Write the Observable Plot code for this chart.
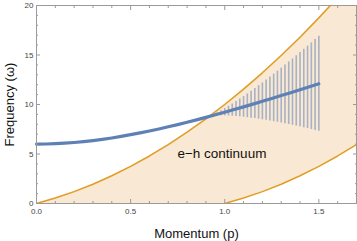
<!DOCTYPE html>
<html>
<head>
<meta charset="utf-8">
<script src="https://cdn.jsdelivr.net/npm/d3@7"></script>
<script src="https://cdn.jsdelivr.net/npm/@observablehq/plot@0.6"></script>
<style>
  html, body { margin: 0; padding: 0; background: #fff; }
  #chart svg { display: block; }
</style>
</head>
<body>
<div id="chart"></div>
<script>
// Continuum boundaries
const momentum = [0, 0.1, 0.2, 0.3, 0.4, 0.5, 0.6, 0.7, 0.8, 0.9, 1.0, 1.1, 1.2, 1.3, 1.4, 1.5, 1.6, 1.7];
const upperEdge = [0, 0.55, 1.2, 1.95, 2.8, 3.75, 4.8, 5.95, 7.2, 8.55, 10, 11.55, 13.2, 14.95, 16.8, 18.75, 20.8, 22.95];
const lowerEdge = [0, 0, 0, 0, 0, 0, 0, 0, 0, 0, 0, 0.55, 1.2, 1.95, 2.8, 3.75, 4.8, 5.95];

// Collective mode (blue)
const modeP = [0, 0.05, 0.1, 0.15, 0.2, 0.25, 0.3, 0.35, 0.4, 0.45, 0.5, 0.55, 0.6, 0.65, 0.7, 0.75, 0.8, 0.85, 0.9, 0.95, 1.0, 1.05, 1.1, 1.15, 1.2, 1.25, 1.3, 1.35, 1.4, 1.45, 1.5];
const modeW = [6.0, 6.01, 6.04, 6.09, 6.16, 6.25, 6.36, 6.48, 6.62, 6.78, 6.95, 7.13, 7.32, 7.53, 7.75, 7.97, 8.21, 8.45, 8.70, 8.96, 9.22, 9.49, 9.76, 10.04, 10.32, 10.61, 10.90, 11.19, 11.49, 11.79, 12.09];

// Damping width bars (gray)
const barP = [0.94, 0.96, 0.98, 1.00, 1.02, 1.04, 1.06, 1.08, 1.10, 1.12, 1.14, 1.16, 1.18, 1.20, 1.22, 1.24, 1.26, 1.28, 1.30, 1.32, 1.34, 1.36, 1.38, 1.40, 1.42, 1.44, 1.46, 1.48, 1.50];
const barLow = [8.85, 8.86, 8.86, 8.85, 8.84, 8.81, 8.78, 8.75, 8.71, 8.67, 8.62, 8.58, 8.52, 8.46, 8.40, 8.33, 8.27, 8.20, 8.13, 8.06, 7.98, 7.90, 7.82, 7.74, 7.65, 7.57, 7.48, 7.38, 7.29];
const barHigh = [8.97, 9.16, 9.36, 9.59, 9.82, 10.05, 10.30, 10.55, 10.81, 11.07, 11.34, 11.62, 11.90, 12.18, 12.48, 12.77, 13.07, 13.36, 13.67, 13.98, 14.30, 14.60, 14.92, 15.24, 15.57, 15.89, 16.22, 16.56, 16.89];

// Ticks and labels
const xMajor = [0, 0.5, 1.0, 1.5];
const xMinor = [0.1, 0.2, 0.3, 0.4, 0.6, 0.7, 0.8, 0.9, 1.1, 1.2, 1.3, 1.4, 1.6, 1.7];
const yMajor = [0, 5, 10, 15, 20];
const yMinor = [1, 2, 3, 4, 6, 7, 8, 9, 11, 12, 13, 14, 16, 17, 18, 19];
const xTitle = "Momentum (p)";
const yTitle = "Frequency (\u03c9)";
const continuumLabel = {p: 0.985, w: 5.0, text: "e\u2212h continuum"};

const edges = momentum.map((p, i) => ({p, lo: lowerEdge[i], hi: upperEdge[i]}));
const lowerLine = edges.filter(d => d.p >= 1.0);
const mode = modeP.map((p, i) => ({p, w: modeW[i]}));
const bars = barP.map((p, i) => ({p, lo: barLow[i], hi: barHigh[i]}));

const frameColor = "#9a9a9a";
const orange = "#e19c24";
const blank = () => "";

const chart = Plot.plot({
  width: 357,
  height: 241,
  marginLeft: 36,
  marginRight: 1,
  marginTop: 5,
  marginBottom: 38,
  style: {fontFamily: "'Liberation Sans', Arial, sans-serif", background: "#fff"},
  x: {domain: [0, 1.7]},
  y: {domain: [0, 20]},
  marks: [
    Plot.areaY(edges, {x: "p", y1: "lo", y2: "hi", fill: "#f9e8d3", clip: true}),
    Plot.line(edges, {x: "p", y: "hi", stroke: orange, strokeWidth: 1.5, clip: true}),
    Plot.line(lowerLine, {x: "p", y: "lo", stroke: orange, strokeWidth: 1.5, clip: true}),
    Plot.ruleX(bars, {x: "p", y1: "lo", y2: "hi", stroke: "#a7b2c4", strokeWidth: 1.6}),
    Plot.line(mode, {x: "p", y: "w", stroke: "#5e81b5", strokeWidth: 3.2, strokeLinecap: "round"}),
    Plot.text([continuumLabel], {x: "p", y: "w", text: "text", fontSize: 13.5, fill: "#111", textAnchor: "middle", lineAnchor: "middle"}),
    Plot.frame({stroke: frameColor, strokeWidth: 1}),
    // inward ticks on all four sides
    Plot.axisX({anchor: "bottom", ticks: xMajor, tickSize: -4, tickFormat: blank, stroke: frameColor, label: null}),
    Plot.axisX({anchor: "bottom", ticks: xMinor, tickSize: -2, tickFormat: blank, stroke: frameColor, label: null}),
    Plot.axisX({anchor: "top", ticks: xMajor, tickSize: -4, tickFormat: blank, stroke: frameColor, label: null}),
    Plot.axisX({anchor: "top", ticks: xMinor, tickSize: -2, tickFormat: blank, stroke: frameColor, label: null}),
    Plot.axisY({anchor: "left", ticks: yMajor, tickSize: -4, tickFormat: blank, stroke: frameColor, label: null}),
    Plot.axisY({anchor: "left", ticks: yMinor, tickSize: -2, tickFormat: blank, stroke: frameColor, label: null}),
    Plot.axisY({anchor: "right", ticks: yMajor, tickSize: -4, tickFormat: blank, stroke: frameColor, label: null}),
    Plot.axisY({anchor: "right", ticks: yMinor, tickSize: -2, tickFormat: blank, stroke: frameColor, label: null}),
    // tick labels
    Plot.axisX({anchor: "bottom", ticks: xMajor, tickSize: 0, tickPadding: 5, tickFormat: d => d.toFixed(1), fontSize: 8, fill: "#444", label: null}),
    Plot.axisY({anchor: "left", ticks: yMajor, tickSize: 0, tickPadding: 3, fontSize: 8, fill: "#444", label: null}),
    // axis titles
    Plot.axisX({anchor: "bottom", ticks: [], tickSize: 0, fontSize: 13, fill: "#111",
      label: xTitle, labelAnchor: "center", labelArrow: "none", labelOffset: 34}),
    Plot.axisY({anchor: "left", ticks: [], tickSize: 0, fontSize: 13, fill: "#111",
      label: yTitle, labelAnchor: "center", labelArrow: "none", labelOffset: 32})
  ]
});
document.getElementById("chart").appendChild(chart);
</script>
</body>
</html>
